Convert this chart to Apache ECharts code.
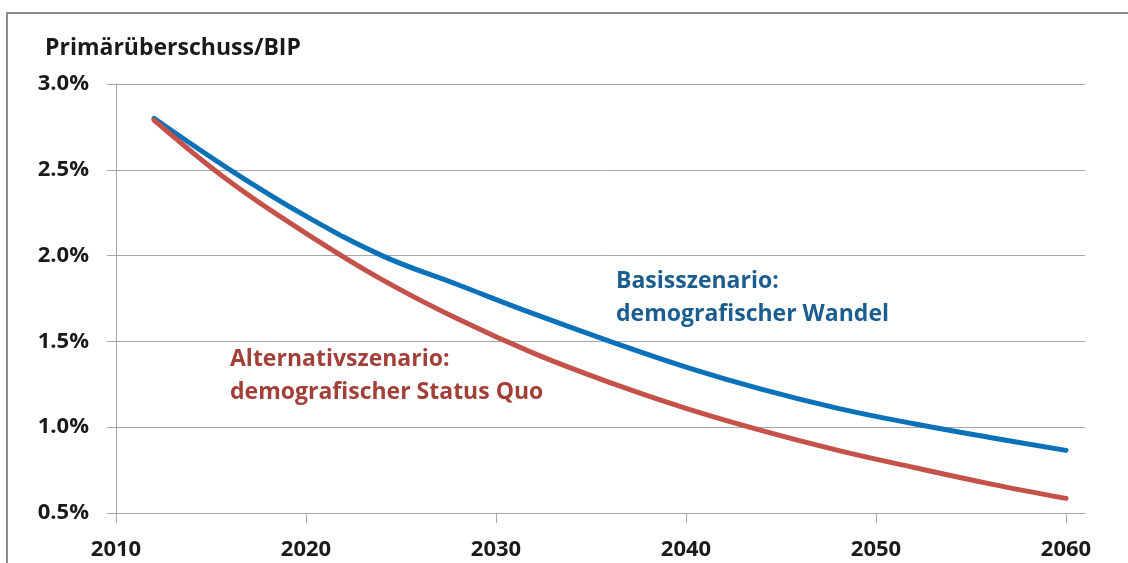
<!DOCTYPE html>
<html>
<head>
<meta charset="utf-8">
<script src="https://cdn.jsdelivr.net/npm/echarts@6/dist/echarts.min.js"></script>
<style>
    html, body { margin: 0; padding: 0; background: #fff; }
    #chart { width: 1128px; height: 563px; }
</style>
</head>
<body>
<div id="chart"></div>
<script>
// Jahre und Werte (Primärüberschuss in % des BIP)
var years = [2012, 2016, 2020, 2024, 2028, 2032, 2036, 2040, 2044, 2048, 2052, 2056, 2060];
var basis = [2.80, 2.50, 2.23, 2.00, 1.83, 1.66, 1.50, 1.35, 1.22, 1.11, 1.02, 0.94, 0.865];
var alternativ = [2.79, 2.43, 2.13, 1.86, 1.63, 1.43, 1.26, 1.11, 0.98, 0.865, 0.765, 0.67, 0.585];
var xTicks = [2010, 2020, 2030, 2040, 2050, 2060];

var font = '"Open Sans", "Noto Sans", sans-serif';

function pairs(vals) {
    return years.map(function (y, i) { return [y, vals[i]]; });
}

var chart = echarts.init(document.getElementById('chart'));
chart.setOption({
    animation: false,
    title: {
        text: 'Primärüberschuss/BIP',
        left: 40,
        top: 32,
        textStyle: { fontFamily: font, fontWeight: 'bold', fontSize: 23, color: '#1a1a1a' }
    },
    grid: { left: 116, right: 43, top: 84, bottom: 50 },
    xAxis: {
        type: 'value',
        min: 2010,
        max: 2061,
        interval: 10,
        axisLine: { show: true, lineStyle: { color: '#a6a6a6', width: 1 } },
        axisTick: { show: true, length: 10, customValues: xTicks, lineStyle: { color: '#a6a6a6' } },
        axisLabel: {
            customValues: xTicks,
            margin: 26,
            formatter: function (v) { return String(v); },
            fontFamily: font, fontWeight: 'bold', fontSize: 22, color: '#1a1a1a'
        },
        splitLine: { show: false }
    },
    yAxis: {
        type: 'value',
        min: 0.5,
        max: 3.0,
        interval: 0.5,
        axisLine: { show: true, lineStyle: { color: '#a6a6a6', width: 1 } },
        axisTick: { show: true, length: 9, lineStyle: { color: '#a6a6a6' } },
        axisLabel: {
            margin: 27,
            formatter: function (v) { return v.toFixed(1) + '%'; },
            fontFamily: font, fontWeight: 'bold', fontSize: 22, color: '#1a1a1a'
        },
        splitLine: { show: true, lineStyle: { color: '#a6a6a6', width: 1 } }
    },
    series: [
        {
            name: 'Basisszenario',
            type: 'line',
            smooth: 0.4,
            symbol: 'none',
            data: pairs(basis),
            lineStyle: { color: '#0B72BA', width: 5, cap: 'round' }
        },
        {
            name: 'Alternativszenario',
            type: 'line',
            smooth: 0.4,
            symbol: 'none',
            data: pairs(alternativ),
            lineStyle: { color: '#C4514A', width: 5, cap: 'round' }
        }
    ],
    graphic: [
        {
            type: 'rect',
            shape: { x: 7, y: 13, width: 1200, height: 700 },
            style: { fill: 'none', stroke: '#8c8c8c', lineWidth: 2 },
            silent: true
        },
        {
            type: 'text',
            x: 616, y: 265,
            style: {
                text: 'Basisszenario:\ndemografischer Wandel',
                font: 'bold 23px ' + font,
                lineHeight: 33,
                fill: '#1A5D8E'
            }
        },
        {
            type: 'text',
            x: 230, y: 343,
            style: {
                text: 'Alternativszenario:\ndemografischer Status Quo',
                font: 'bold 23px ' + font,
                lineHeight: 33,
                fill: '#A23F38'
            }
        }
    ]
});
</script>
</body>
</html>
